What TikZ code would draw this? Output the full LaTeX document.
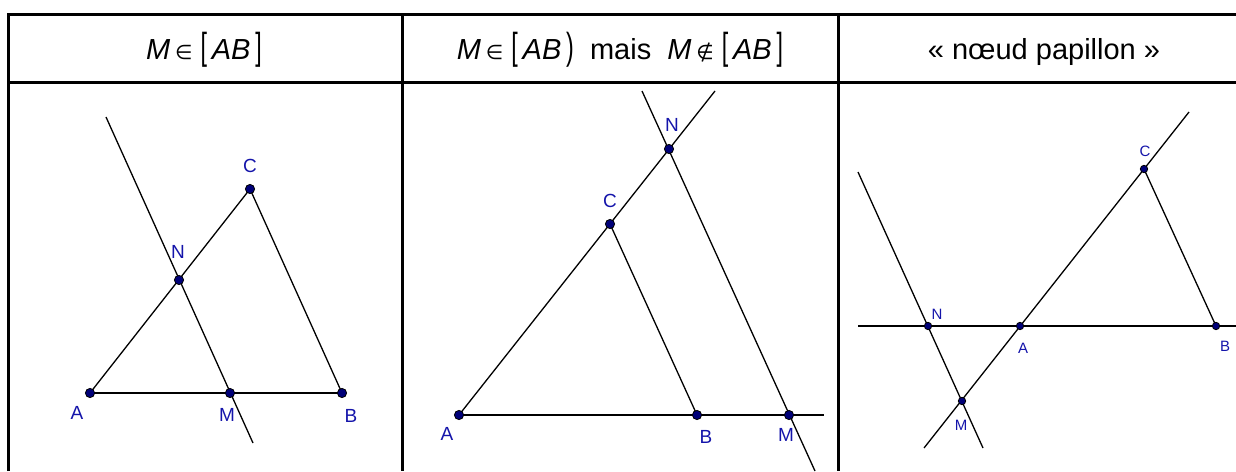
\documentclass[tikz,border=0pt]{standalone}
\usepackage{fontspec}
\usepackage{graphicx}
\setmainfont{Liberation Sans}
\newfontfamily\symfont{DejaVu Sans}
\usetikzlibrary{calc}
\definecolor{ptblue}{RGB}{0,0,120}
\definecolor{lblue}{RGB}{20,20,170}
\newcommand\elt{\,{\symfont\fontsize{10}{10}\selectfont ∈}\;}
\newcommand\nelt{\,{\symfont\fontsize{10}{10}\selectfont ∉}\;}
\newcommand\lbr{\scalebox{0.8}[1.3]{[}\,}
\newcommand\rbr{\,\scalebox{0.8}[1.3]{]}}
\newcommand\rpar{\,\scalebox{0.8}[1.3]{)}}
\tikzset{
  rule/.style={line width=1.5pt},
  head/.style={font=\fontsize{14.5}{16}\selectfont,anchor=base,inner sep=0pt},
  seg/.style={line width=0.65pt},
  base seg/.style={line width=1pt},
  dot/.style={circle,draw=black,fill=ptblue,line width=0.4pt,inner sep=0pt,minimum size=#1},
  dot/.default=4.6pt,
  lbl/.style={text=lblue,font=\fontsize{9.5}{10}\selectfont,inner sep=0pt},
  small lbl/.style={lbl,font=\fontsize{7.5}{8}\selectfont},
}
\begin{document}
\begin{tikzpicture}[x=0.5pt,y=-0.5pt]
  \useasboundingbox (0,0) rectangle (1236,471);
  % table
  \draw[rule] (8,471) |- (1236,14) (8,82) -- (1236,82);
  \foreach \x in {402,838} \draw[rule] (\x,14) -- (\x,471);
  \foreach \x/\n/\t in {
    204/h1/{\textit{M}\elt\lbr\textit{AB}\rbr},
    620/h2/{\textit{M}\elt\lbr\textit{AB}\rpar\ \ mais\ \ \textit{M}\nelt\lbr\textit{AB}\rbr},
    1044/h3/{«~nœud papillon~»}}
    \node[head] (\n) at (\x,59) {\t};

  % first case
  \foreach \p/\x/\y in {A1/90/393,B1/342/393,C1/250/189,N1/179/280,M1/230/393,
                        t1/106/117,b1/253/443}
    \coordinate (\p) at (\x,\y);
  \draw[base seg] (A1) -- (B1);
  \draw[seg] (A1) -- (C1) -- (B1);
  \draw[seg] (t1) -- (b1);

  % second case
  \foreach \p/\x/\y in {A2/459/415,B2/697/415,C2/610/224,N2/669/149,M2/789/415,
                        r2/824/415,u2/715/91,t2/642/91,b2/815/471}
    \coordinate (\p) at (\x,\y);
  \draw[base seg] (A2) -- (r2);
  \draw[seg] (A2) -- (u2);
  \draw[seg] (C2) -- (B2);
  \draw[seg] (t2) -- (b2);

  % third case
  \foreach \p/\x/\y in {A3/1020/326,B3/1216/326,C3/1144/169,N3/928/326,M3/962/401,
                        l3/858/326,r3/1236/326,u3/1189/112,d3/924/448,t3/858/172,b3/983/448}
    \coordinate (\p) at (\x,\y);
  \draw[seg] (l3) -- (r3);
  \draw[base seg] (A3) -- (B3);
  \draw[seg] (d3) -- (u3);
  \draw[seg] (C3) -- (B3);
  \draw[seg] (t3) -- (b3);

  % points
  \foreach \p in {A1,B1,C1,N1,M1,A2,B2,C2,N2,M2}
    \node[dot] (d\p) at (\p) {};
  \foreach \p in {A3,B3,C3,N3,M3}
    \node[dot=3.7pt] (d\p) at (\p) {};

  % names
  \foreach \n/\t/\x/\y in {lA1/A/77/413,lM1/M/227/415,lB1/B/351/416,lN1/N/178/252,lC1/C/250/166,
                           lA2/A/447/434,lB2/B/706/437,lM2/M/786/435,lC2/C/610/201,lN2/N/672/125}
    \node[lbl] (\n) at (\x,\y) {\t};
  \foreach \n/\t/\x/\y in {lN3/N/937/314,lA3/A/1023/348,lB3/B/1225/346,lC3/C/1145/151,lM3/M/961/425}
    \node[small lbl] (\n) at (\x,\y) {\t};
\end{tikzpicture}
\end{document}
